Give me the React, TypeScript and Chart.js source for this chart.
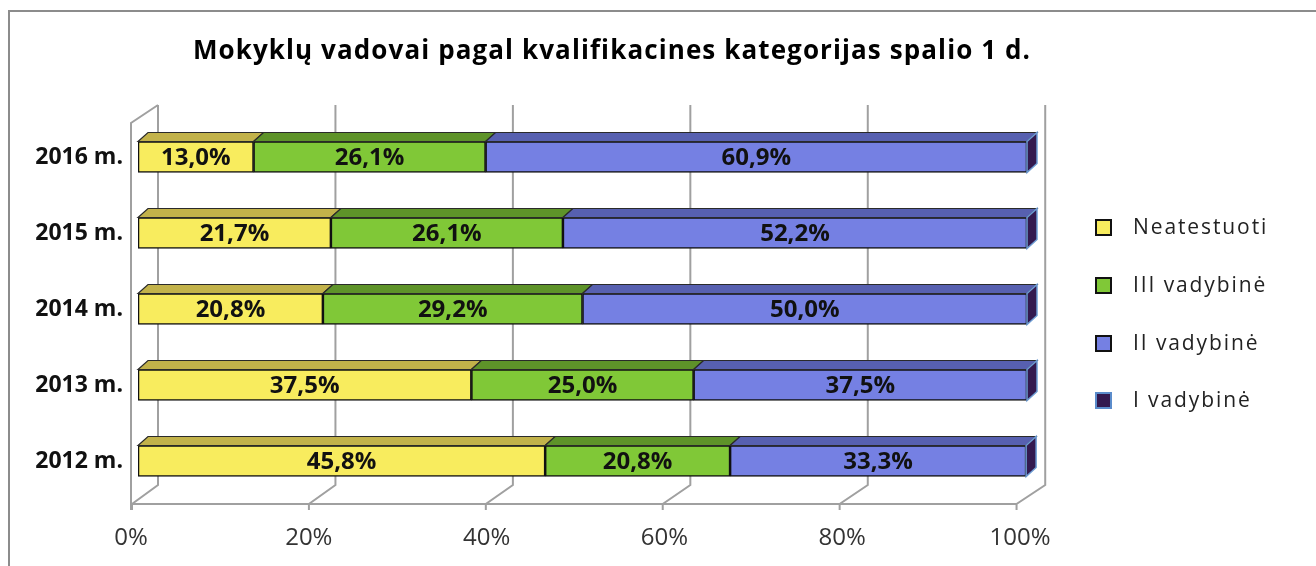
import React, { useEffect, useRef } from 'react';
import { Chart, registerables } from 'chart.js';

Chart.register(...registerables);

const TITLE = 'Mokyklų vadovai pagal kvalifikacines kategorijas spalio 1 d.';
const categories = ['2016 m.', '2015 m.', '2014 m.', '2013 m.', '2012 m.'];
const seriesNames = ['Neatestuoti', 'III vadybinė', 'II vadybinė', 'I vadybinė'];
const neatestuoti = [13.0, 21.7, 20.8, 37.5, 45.8];
const iiiVadybine = [26.1, 26.1, 29.2, 25.0, 20.8];
const iiVadybine = [60.9, 52.2, 50.0, 37.5, 33.3];
const iVadybine = [0, 0, 0, 0, 0];
const xTicks = [0, 20, 40, 60, 80, 100];

const frontColors = ['#F8EC5E', '#80C837', '#7580E3', '#33194F'];
const topColors = ['#C2B24A', '#5E9329', '#5760B0', '#33194F'];
const legendBorders = ['#111111', '#111111', '#111111', '#5B8CCB'];

const FONT = '"Open Sans", "DejaVu Sans", sans-serif';
const DX = 10;
const DY = -9;

const fmt = (v: number) => v.toFixed(1).replace('.', ',') + '%';

const threeD = {
  id: 'threeD',
  beforeDatasetsDraw(chart: any) {
    const { ctx, chartArea: ca } = chart;
    const x = chart.scales.x;
    ctx.save();
    // outer frame
    ctx.strokeStyle = '#8c8c8c';
    ctx.lineWidth = 2;
    ctx.strokeRect(9, 11, 1500, 800);
    // walls & floor
    const front = (v: number) => {
      const sx = x.getPixelForValue(v);
      return sx - 6 - (sx - ca.left) * 0.005;
    };
    const back = (v: number) => {
      const sx = x.getPixelForValue(v);
      return sx + 20 - (sx - ca.left) * 0.002;
    };
    const topBack = ca.top - 14;
    const floorBack = ca.bottom - 14;
    const floorFront = ca.bottom + 5;
    ctx.strokeStyle = '#a0a0a0';
    ctx.lineWidth = 2;
    ctx.beginPath();
    const f0 = front(0) - 1;
    ctx.moveTo(f0, floorFront + 6);
    ctx.lineTo(f0, ca.top + 4);
    ctx.lineTo(back(0), topBack);
    ctx.moveTo(f0, floorFront);
    ctx.lineTo(front(100), floorFront);
    for (const v of xTicks) {
      ctx.moveTo(back(v), topBack);
      ctx.lineTo(back(v), floorBack);
      ctx.lineTo(front(v), floorFront);
      ctx.lineTo(front(v), floorFront + 6);
    }
    ctx.stroke();
    ctx.restore();
  },
  afterDatasetsDraw(chart: any) {
    const { ctx } = chart;
    ctx.save();
    const n = chart.data.datasets.length;
    chart.data.datasets.forEach((ds: any, di: number) => {
      const meta = chart.getDatasetMeta(di);
      meta.data.forEach((el: any) => {
        const p = el.getProps(['x', 'y', 'base', 'height'], true);
        const top = p.y - p.height / 2;
        const bottom = p.y + p.height / 2;
        const l = Math.min(p.x, p.base);
        const r = Math.max(p.x, p.base);
        if (di < n - 1 && r - l > 0.5) {
          ctx.beginPath();
          ctx.moveTo(l, top);
          ctx.lineTo(l + DX, top + DY);
          ctx.lineTo(r + DX, top + DY);
          ctx.lineTo(r, top);
          ctx.closePath();
          ctx.fillStyle = topColors[di];
          ctx.fill();
          ctx.strokeStyle = '#2a2a2a';
          ctx.lineWidth = 1.2;
          ctx.stroke();
        }
        if (di === n - 1) {
          ctx.beginPath();
          ctx.moveTo(r, top);
          ctx.lineTo(r + DX, top + DY);
          ctx.lineTo(r + DX, bottom + DY);
          ctx.lineTo(r, bottom);
          ctx.closePath();
          ctx.fillStyle = frontColors[di];
          ctx.fill();
          ctx.strokeStyle = '#6C9BD2';
          ctx.lineWidth = 1.5;
          ctx.stroke();
        }
      });
    });
    // data labels
    ctx.font = `bold 24px ${FONT}`;
    ctx.fillStyle = '#111111';
    ctx.textAlign = 'center';
    ctx.textBaseline = 'middle';
    chart.data.datasets.forEach((ds: any, di: number) => {
      if (di === n - 1) return;
      const meta = chart.getDatasetMeta(di);
      meta.data.forEach((el: any, i: number) => {
        const p = el.getProps(['x', 'y', 'base'], true);
        ctx.fillText(fmt(ds.data[i]), (p.x + p.base) / 2, p.y + 1);
      });
    });
    ctx.restore();
  },
  afterDraw(chart: any) {
    const { ctx } = chart;
    ctx.save();
    // title
    ctx.font = `bold 26px ${FONT}`;
    (ctx as any).letterSpacing = '1.1px';
    ctx.fillStyle = '#000000';
    ctx.textAlign = 'center';
    ctx.textBaseline = 'middle';
    ctx.fillText(TITLE, 612, 52);
    // legend
    const ys = [227, 285, 343, 400];
    ctx.font = `21px ${FONT}`;
    (ctx as any).letterSpacing = '1.9px';
    ctx.textAlign = 'left';
    seriesNames.forEach((name, i) => {
      const y = ys[i];
      ctx.fillStyle = frontColors[i];
      ctx.fillRect(1096, y - 7, 15, 15);
      ctx.strokeStyle = legendBorders[i];
      ctx.lineWidth = 2;
      ctx.strokeRect(1096, y - 7, 15, 15);
      ctx.fillStyle = '#222222';
      ctx.fillText(name, 1133, y + 1);
    });
    (ctx as any).letterSpacing = '0px';
    ctx.restore();
  },
};

export default function App() {
  const ref = useRef<HTMLCanvasElement | null>(null);
  useEffect(() => {
    document.body.style.margin = '0';
    document.body.style.overflow = 'hidden';
    const canvas = ref.current!;
    const datasets = [neatestuoti, iiiVadybine, iiVadybine, iVadybine].map((data, i) => ({
      label: seriesNames[i],
      data,
      backgroundColor: frontColors[i],
      borderColor: '#111111',
      borderWidth: i === 3 ? 0 : 1.6,
      borderSkipped: false,
      barThickness: 31,
    }));
    const chart = new Chart(canvas, {
      type: 'bar',
      data: { labels: categories, datasets },
      options: {
        indexAxis: 'y',
        animation: false,
        responsive: false,
        maintainAspectRatio: false,
        layout: { padding: { left: 0, right: 289, top: 119, bottom: 0 } },
        plugins: {
          legend: { display: false },
          title: { display: false },
          tooltip: { enabled: false },
        },
        scales: {
          x: {
            stacked: true,
            min: 0,
            max: 100,
            afterBuildTicks: (s: any) => {
              s.ticks = xTicks.map((v) => ({ value: v }));
            },
            ticks: {
              callback: (v: any) => v + '%',
              font: { family: FONT, size: 24 },
              color: '#333333',
              padding: 25,
              labelOffset: -7,
              maxRotation: 0,
            },
            grid: { display: false, drawTicks: false },
            border: { display: false },
            afterFit: (s: any) => {
              s.height = 67;
            },
          },
          y: {
            stacked: true,
            ticks: {
              font: { family: FONT, size: 23, weight: 'bold' },
              color: '#111111',
              padding: 15,
            },
            grid: { display: false, drawTicks: false },
            border: { display: false },
            afterFit: (s: any) => {
              s.width = 138;
            },
          },
        },
      },
      plugins: [threeD],
    } as any);
    return () => chart.destroy();
  }, []);
  return (
    <div style={{ position: 'fixed', left: 0, top: 0, width: 1316, height: 566 }}>
      <canvas ref={ref} width={1316} height={566} style={{ display: 'block', width: 1316, height: 566 }} />
    </div>
  );
}
